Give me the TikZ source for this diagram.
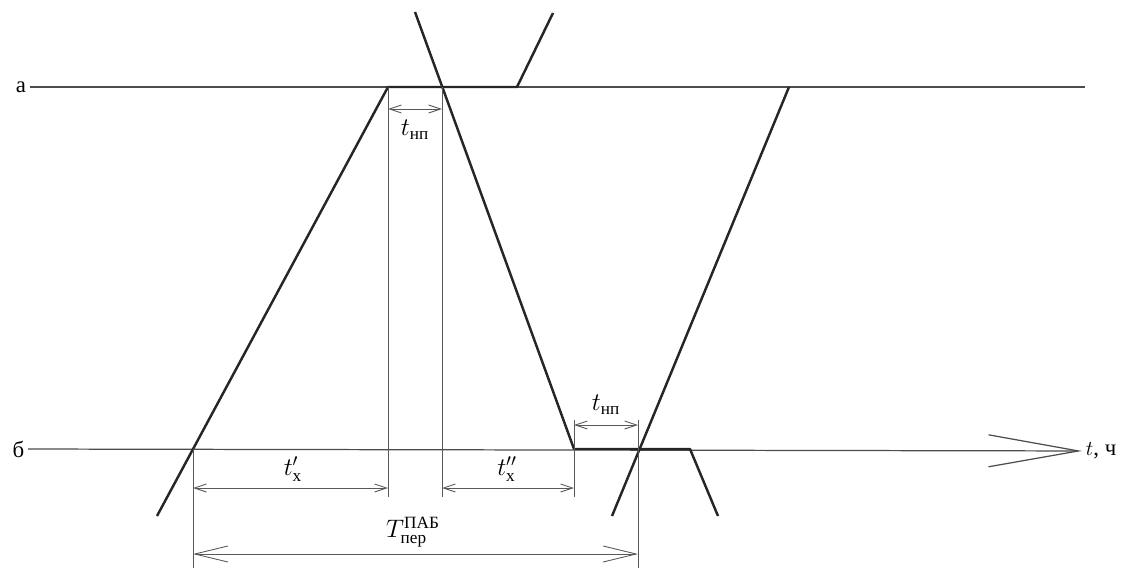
\documentclass[tikz,border=0pt]{standalone}
\usepackage{amsmath}
\usepackage{fontspec}
\setmainfont{Liberation Serif}
\usetikzlibrary{arrows.meta}
\tikzset{
    axis/.style={black!70, line width=0.7pt},
    train/.style={black!85, line width=1.4pt, line join=round},
    guide/.style={black!65, line width=0.5pt},
    dimlabel/.style={inner sep=1pt, font=\fontsize{14}{16}\selectfont}
}
\newcommand{\dimarrow}{\draw[guide, {Straight Barb[length=0.24cm,width=0.16cm]}-{Straight Barb[length=0.24cm,width=0.16cm]}]}

\begin{document}
\begin{tikzpicture}[x=0.02cm, y=-0.02cm]
    \useasboundingbox (0,0) rectangle (1126,568);

    % Draw stations
    \node[anchor=east, inner sep=2pt, font=\fontsize{13}{15}\selectfont] (sa) at (30,87) {а};
    \node[anchor=east, inner sep=2pt, font=\fontsize{13}{15}\selectfont] (sb) at (28,449) {б};
    \node[anchor=west, inner sep=2pt, font=\fontsize{13}{15}\selectfont] (tax) at (1082,451) {$t$, ч};
    \coordinate (aend) at (1085,87);
    \draw[axis] (sa) -- (aend);
    \draw[axis, -{Straight Barb[length=1.8cm,width=0.64cm]}] (sb) -- (tax);

    % Draw trains
    \coordinate (p1) at (157,516);
    \coordinate (arra) at (388,87);
    \coordinate (depa) at (517,87);
    \coordinate (p2) at (553,13);
    \coordinate (q1) at (415,12);
    \coordinate (arrb) at (574,449);
    \coordinate (depb) at (690,449);
    \coordinate (q2) at (718,516);
    \coordinate (r1) at (612,516);
    \coordinate (r2) at (789,87);
    \draw[train] (p1) -- (arra) -- (depa) -- (p2);
    \draw[train] (q1) -- (arrb) -- (depb) -- (q2);
    \draw[train] (r1) -- (r2);

    % Draw guide lines
    \coordinate (g1t) at (388,87);  \coordinate (g1b) at (388,497);
    \coordinate (g2t) at (442,87);  \coordinate (g2b) at (442,497);
    \coordinate (g3t) at (574,420); \coordinate (g3b) at (574,497);
    \coordinate (g4t) at (638,420); \coordinate (g4b) at (638,568);
    \coordinate (g0t) at (193,449); \coordinate (g0b) at (193,568);
    \foreach \g in {0,...,4} {
        \draw[guide] (g\g t) -- (g\g b);
    }

    % Draw intervals
    \coordinate (n1l) at (388,109); \coordinate (n1r) at (442,109);
    \coordinate (n2l) at (574,425); \coordinate (n2r) at (638,425);
    \coordinate (x1l) at (193,488); \coordinate (x1r) at (388,488);
    \coordinate (x2l) at (442,488); \coordinate (x2r) at (574,488);
    \coordinate (Tl) at (193,554);  \coordinate (Tr) at (638,554);
    \dimarrow (n1l) -- (n1r);
    \dimarrow (n2l) -- (n2r);
    \dimarrow (x1l) -- (x1r);
    \dimarrow (x2l) -- (x2r);
    \draw[guide, {Straight Barb[length=0.66cm,width=0.32cm]}-{Straight Barb[length=0.66cm,width=0.32cm]}] (Tl) -- (Tr);

    \node[dimlabel] (ln1) at (415,130) {$t_{\text{нп}}$};
    \node[dimlabel] (ln2) at (606,405) {$t_{\text{нп}}$};
    \node[dimlabel] (lx1) at (293,469) {$t'_{\text{х}}$};
    \node[dimlabel] (lx2) at (507,469) {$t''_{\text{х}}$};
    \node[dimlabel] (lT) at (413,532) {$T^{\text{ПАБ}}_{\text{пер}}$};
\end{tikzpicture}
\end{document}
